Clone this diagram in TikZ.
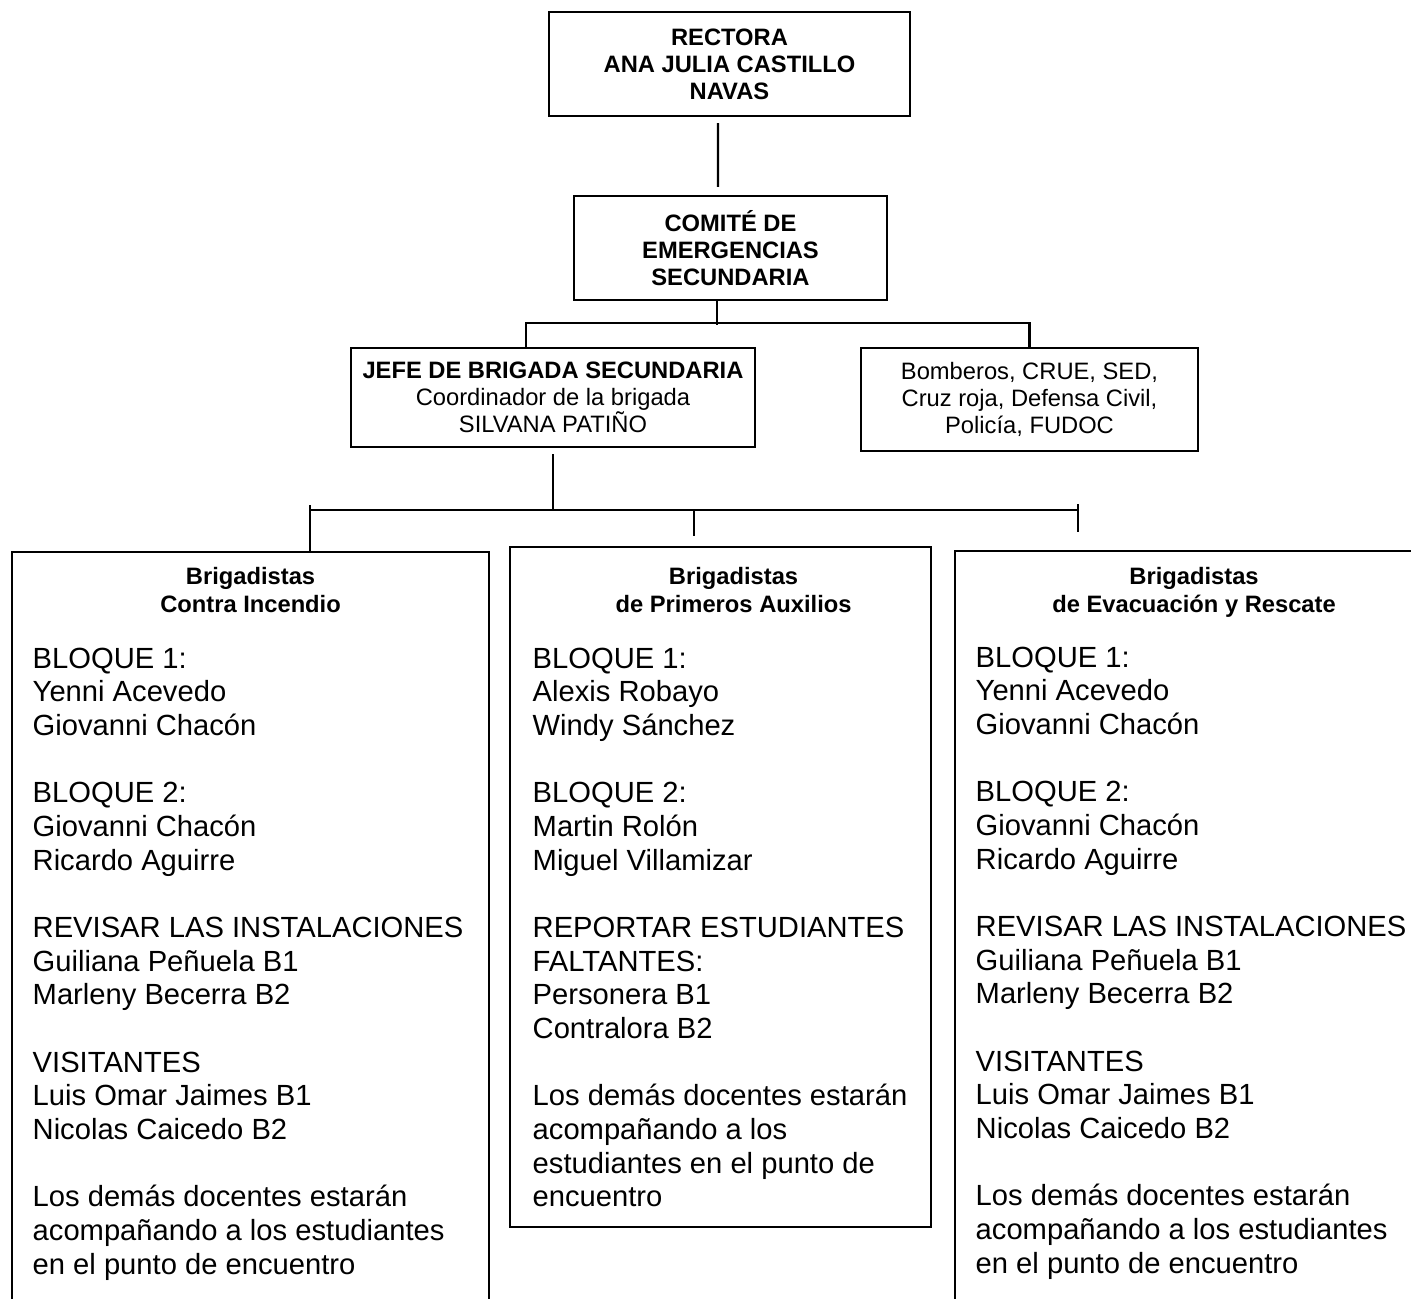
\documentclass[tikz,border=0pt]{standalone}
\usepackage{fontspec}
\setmainfont{Liberation Sans}
\usetikzlibrary{positioning}

\tikzset{
  box/.style={draw, line width=0.6pt, align=center, inner sep=0pt, font=\fontsize{6.75}{7.7}\selectfont},
  brigada/.style={draw, line width=0.6pt, inner sep=0pt, anchor=north west},
  head/.style={align=center, inner sep=0pt, anchor=north, font=\fontsize{6.75}{7.8}\selectfont\bfseries},
  lista/.style={align=left, inner sep=0pt, anchor=north west, font=\fontsize{8.3}{9.58}\selectfont},
  link/.style={line width=0.6pt}
}

\begin{document}
\begin{tikzpicture}
        \useasboundingbox (0,0) rectangle (14.11,-12.99);
        \clip (0,0) rectangle (14.11,-12.99);

        % Upper levels
        \node[box, minimum width=3.61cm, minimum height=1.04cm, font=\fontsize{6.75}{7.7}\selectfont\bfseries] (rectora) at (7.295,-0.64) {RECTORA\\ANA JULIA CASTILLO\\NAVAS};
        \node[box, minimum width=3.13cm, minimum height=1.04cm, font=\fontsize{6.75}{7.7}\selectfont\bfseries] (comite) at (7.305,-2.48) {COMITÉ DE\\EMERGENCIAS\\SECUNDARIA};
        \node[box, minimum width=4.04cm, minimum height=0.99cm] (jefe) at (5.53,-3.975) {\textbf{JEFE DE BRIGADA SECUNDARIA}\\Coordinador de la brigada\\SILVANA PATIÑO};
        \node[box, minimum width=3.37cm, minimum height=1.03cm] (apoyo) at (10.295,-3.995) {Bomberos, CRUE, SED,\\Cruz roja, Defensa Civil,\\Policía, FUDOC};

        \draw[link] ([xshift=-0.115cm,yshift=-0.06cm]rectora.south) -- ([xshift=-0.125cm,yshift=0.08cm]comite.north);
        \draw[link] ([xshift=-0.135cm]comite.south) -- ++(0,-0.24);
        \draw[link] ([xshift=-0.27cm]jefe.north) -- ++(0,0.24) -| (apoyo.north);

        % Brigades
        \node[brigada, minimum width=4.77cm, minimum height=8cm] (contra) at (0.11,-5.51) {};
        \node[brigada, minimum width=4.21cm, minimum height=6.80cm] (auxilio) at (5.09,-5.46) {};
        \node[brigada, minimum width=4.78cm, minimum height=8cm] (evacua) at (9.54,-5.50) {};

        \node[head] (contrah) at ([yshift=-0.16cm]contra.north) {Brigadistas\\Contra Incendio};
        \node[head] (auxilioh) at ([xshift=0.13cm,yshift=-0.21cm]auxilio.north) {Brigadistas\\de Primeros Auxilios};
        \node[head] (evacuah) at ([yshift=-0.17cm]evacua.north) {Brigadistas\\de Evacuación y Rescate};

        % Same list in the two outer boxes
        \foreach \b in {contra, evacua} {
          \node[lista] (\b l) at ([xshift=0.21cm,yshift=-0.96cm]\b.north west) {BLOQUE 1:\\Yenni Acevedo\\Giovanni Chacón\\[9.58pt]
            BLOQUE 2:\\Giovanni Chacón\\Ricardo Aguirre\\[9.58pt]
            REVISAR LAS INSTALACIONES\\Guiliana Peñuela B1\\Marleny Becerra B2\\[9.58pt]
            VISITANTES\\Luis Omar Jaimes B1\\Nicolas Caicedo B2\\[9.58pt]
            Los demás docentes estarán\\acompañando a los estudiantes\\en el punto de encuentro};
        }
        \node[lista] (auxiliol) at ([xshift=0.23cm,yshift=-1.01cm]auxilio.north west) {BLOQUE 1:\\Alexis Robayo\\Windy Sánchez\\[9.58pt]
          BLOQUE 2:\\Martin Rolón\\Miguel Villamizar\\[9.58pt]
          REPORTAR ESTUDIANTES\\FALTANTES:\\Personera B1\\Contralora B2\\[9.58pt]
          Los demás docentes estarán\\acompañando a los\\estudiantes en el punto de\\encuentro};

        % Lines down to the brigades
        \coordinate (barL) at (3.10,-5.10);
        \coordinate (barM) at (6.94,-5.10);
        \coordinate (barR) at (10.78,-5.10);
        \draw[link] ([yshift=-0.06cm]jefe.south) -- (jefe.south |- barL);
        \draw[link] (barL) -- (barR);
        \draw[link] ([yshift=0.05cm]barL) -- (barL |- contra.north);
        \draw[link] (barM) -- ++(0,-0.26);
        \draw[link] ([yshift=0.06cm]barR) -- ++(0,-0.28);
\end{tikzpicture}
\end{document}
